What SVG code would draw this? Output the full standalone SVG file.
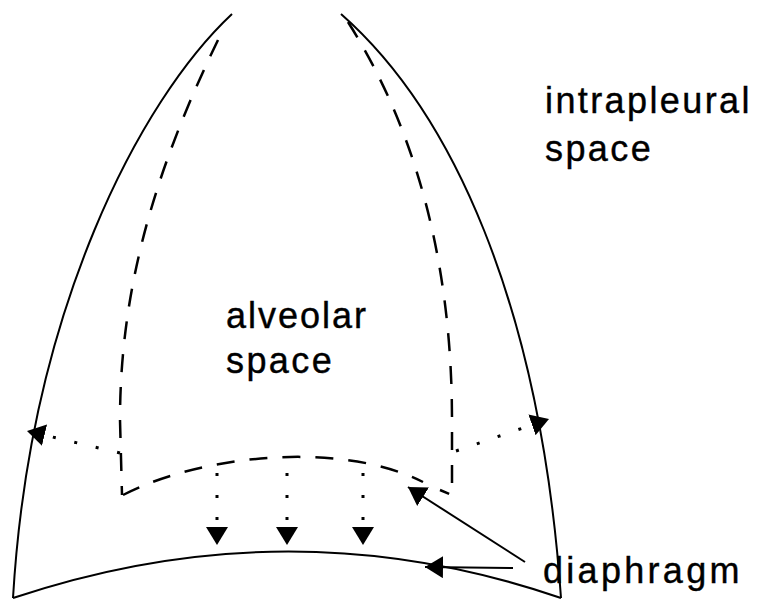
<svg xmlns="http://www.w3.org/2000/svg" width="763" height="601" viewBox="0 0 763 601">
<defs>
<style>
.solid{fill:none;stroke:#000;stroke-width:2}
.dash{fill:none;stroke:#000;stroke-width:2.5;stroke-dasharray:18 15}
.dot{fill:none;stroke:#000;stroke-width:3;stroke-dasharray:3 19;stroke-linecap:butt}
.lbl{font-family:"Liberation Sans",Arial,sans-serif;font-size:36px;fill:#000;stroke:#000;stroke-width:0.4}
</style>
<marker id="ah" viewBox="0 0 18 22" refX="18" refY="11" markerWidth="18" markerHeight="22" markerUnits="userSpaceOnUse" orient="auto">
<path d="M0,0 L18,11 L0,22 Z" fill="#000"/>
</marker>
</defs>
<rect width="763" height="601" fill="#fff"/>
<g id="pleura">
<path class="solid" d="M232,14 C140,100 30,310 13,598"/>
<path class="solid" d="M341,14 C450,110 540,300 561,598"/>
</g>
<g id="diaphragm-outer">
<path class="solid" d="M13,598 Q290,505 561,598"/>
</g>
<g id="alveolar">
<path class="dash" d="M218,40 C160,160 120,280 120,420 L122,495"/>
<path class="dash" d="M123,495 C200,455 340,440 423,482"/>
<path class="dash" d="M348,22 C410,120 452,250 452,420 L452,495 L440,490"/>
</g>
<g id="connectors">
<path class="dot" d="M120,453 L27,431" marker-end="url(#ah)"/>
<path class="dot" d="M456,451 L549,419" marker-end="url(#ah)"/>
<path class="dot" d="M217,473 L217,545" marker-end="url(#ah)"/>
<path class="dot" d="M287,473 L287,545" marker-end="url(#ah)"/>
<path class="dot" d="M363,473 L363,545" marker-end="url(#ah)"/>
<path class="solid" d="M525,562 L408,487" marker-end="url(#ah)"/>
<path class="solid" d="M513,568 L425,567" marker-end="url(#ah)"/>
</g>
<g id="labels">
<text class="lbl" x="545" y="113" letter-spacing="2.4">intrapleural</text>
<text class="lbl" x="545" y="161" letter-spacing="2.4">space</text>
<text class="lbl" x="226" y="328" letter-spacing="2">alveolar</text>
<text class="lbl" x="226" y="373" letter-spacing="2.4">space</text>
<text class="lbl" x="543" y="583" letter-spacing="3.3">diaphragm</text>
</g>
</svg>
